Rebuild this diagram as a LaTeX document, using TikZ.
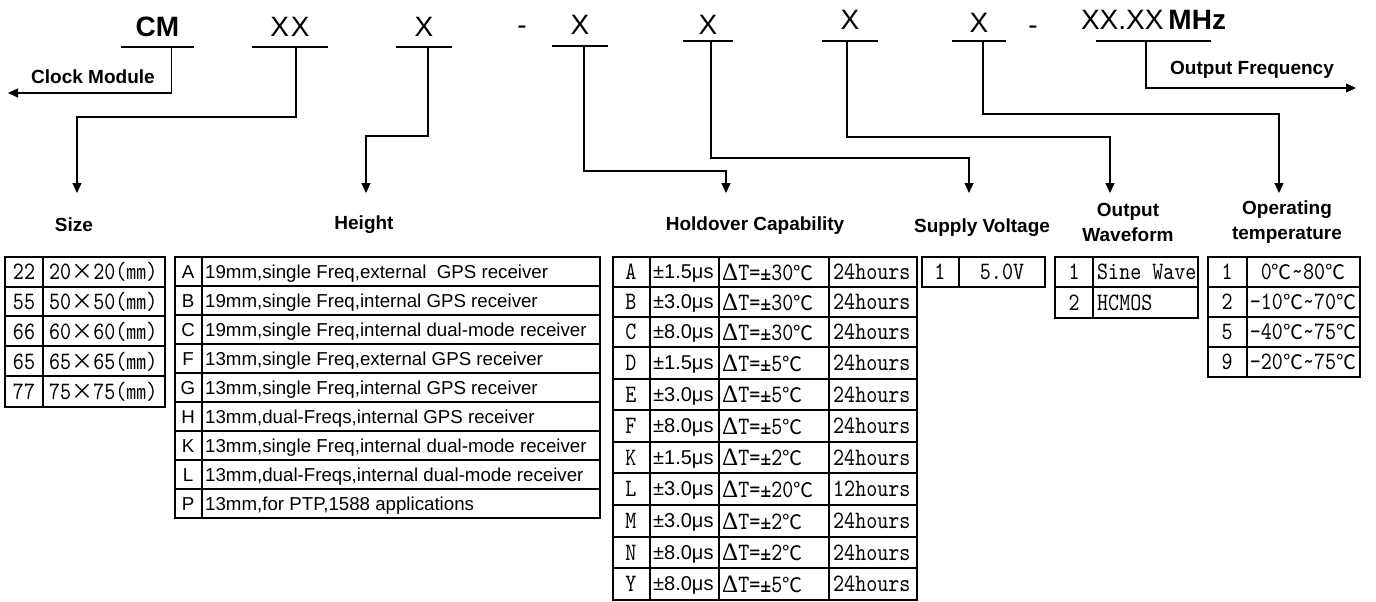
\documentclass[tikz,border=0pt]{standalone}
\usepackage{fontspec}
\setmainfont{Liberation Sans}
\newfontfamily\tabfont[Extension=.otf, FakeStretch=0.84]{lmmono10-regular}
\newfontfamily\grkfont{Liberation Serif}
\newfontfamily\cjkfont{Noto Sans CJK SC}
\usetikzlibrary{arrows.meta}
\newcommand{\degc}{{\cjkfont\fontsize{20}{20}\selectfont ℃}}
\newcommand{\mmunit}{{\cjkfont\fontsize{20}{20}\selectfont ㎜}}
\newcommand{\tms}{{\cjkfont\fontsize{22}{22}\selectfont ×}}
\newcommand{\dlta}{{\grkfont Δ}}

\begin{document}
\begin{tikzpicture}[x=1pt,y=-1pt,
    code/.style={anchor=south, inner xsep=0pt, font=\fontsize{28}{28}\selectfont},
    note/.style={inner sep=0pt, font=\bfseries\fontsize{19}{19}\selectfont},
    title/.style={inner sep=0pt, align=center, font=\bfseries\fontsize{19}{25}\selectfont},
    conn/.style={line width=1.2pt, -{Triangle[width=9pt,length=10pt]}},
    grid/.style={line width=1.3pt},
    cell/.style={inner sep=0pt, font=\tabfont\fontsize{25}{25}\selectfont},
    desc/.style={inner sep=0pt, anchor=west, text height=13.4pt, text depth=0pt, font=\fontsize{18.7}{18.7}\selectfont}]
    \useasboundingbox (0,0) rectangle (1376,602);

    % Code line
    \node[code, inner ysep=10pt] (cm) at (157.5,47) {\bfseries CM};
    \node[code, inner ysep=10pt] (sz) at (290,47) {X\kern2ptX};
    \node[code, inner ysep=10pt] (ht) at (424,47) {X};
    \node[code, inner ysep=0pt, anchor=center] (dsh1) at (522,30) {-};
    \node[code, inner ysep=11pt] (ho) at (580,46) {X};
    \node[code, inner ysep=6pt] (sv) at (708,41) {X};
    \node[code, inner ysep=11pt] (wf) at (850,41) {X};
    \node[code, inner ysep=8pt] (ot) at (979,41) {X};
    \node[code, inner ysep=0pt, anchor=center] (dsh2) at (1033,30) {-};
    \node[code, inner ysep=11pt] (fq) at (1153.5,41) {XX.XX\kern5pt\textbf{MHz}};
    \foreach \n/\w in {cm/73, sz/76, ht/56, ho/56, sv/50, wf/56, ot/54, fq/115}
        \draw[line width=1.2pt] ([xshift=-\w/2]\n.south) -- ([xshift=\w/2]\n.south);

    % Side arrows
    \node[note] (clk) at (93,77) {Clock Module};
    \node[note] (frq) at (1252,70) {Output Frequency};
    \coordinate (clkend) at (8,93);
    \coordinate (fqend) at (1356,88);
    \draw[conn] ([xshift=14pt]cm.south) |- (clkend);
    \draw[conn] ([xshift=-7.5pt]fq.south) |- (fqend);

    % Down arrows
    \foreach \n/\dx/\ym/\xe in {sz/6/117/77, ht/4/136/366, ho/4/171/726, sv/3/158/969, wf/-3/137/1110, ot/4/114/1279}{
        \coordinate (\n-end) at (\xe,193);
        \draw[conn] ([xshift=\dx pt]\n.south) |- (\n-end |- 0,\ym) -- (\n-end);
    }

    % Titles
    \node[title] (tsz) at (74,225) {Size};
    \node[title] (tht) at (364,225) {Height};
    \node[title] (tho) at (755,226) {Holdover Capability};
    \node[title] (tsv) at (982,228) {Supply Voltage};
    \node[title] (twf) at (1128,222) {Output\\Waveform};
    \node[title] (tot) at (1287,222) {Operating\\temperature};

    % Size table
    \draw[grid] (5,257) rectangle (165,407) (43,257) -- (43,407);
    \foreach \y in {287,316,346,376} \draw[grid] (5,\y) -- (165,\y);
    \foreach \k/\mm [count=\i] in {22/20, 55/50, 66/60, 65/65, 77/75}{
        \node[cell] (sz-\k) at (24,257+30*\i-15) {\k};
        \node[cell, anchor=west] (szd-\k) at (49,257+30*\i-15) {\mm\tms\mm(\mmunit)};
    }

    % Height table
    \draw[grid] (175,257) rectangle (600,518) (202,257) -- (202,518);
    \foreach \i in {1,...,8} \draw[grid] (175,257+29*\i) -- (600,257+29*\i);
    \foreach \k/\v [count=\i] in {A/{19mm,single Freq,external~~GPS receiver},
        B/{19mm,single Freq,internal GPS receiver},
        C/{19mm,single Freq,internal dual-mode receiver},
        F/{13mm,single Freq,external GPS receiver},
        G/{13mm,single Freq,internal GPS receiver},
        H/{13mm,dual-Freqs,internal GPS receiver},
        K/{13mm,single Freq,internal dual-mode receiver},
        L/{13mm,dual-Freqs,internal dual-mode receiver},
        P/{13mm,for PTP,1588 applications}}{
        \node[desc, anchor=center] (ht-\k) at (188,242.5+29*\i) {\k};
        \node[desc] (htd-\k) at (205,242.5+29*\i) {\v};
    }

    % Holdover table
    \draw[grid] (613,257) rectangle (917,600);
    \foreach \x in {650,719,829} \draw[grid] (\x,257) -- (\x,600);
    \foreach \y in {287,317,347,379,410,442,473,505,537,568} \draw[grid] (613,\y) -- (917,\y);
    \foreach \k/\acc/\dlt/\hrs/\ym in {A/1.5/30/24/272, B/3.0/30/24/302, C/8.0/30/24/332,
        D/1.5/5/24/363, E/3.0/5/24/394.5, F/8.0/5/24/426, K/1.5/2/24/457.5,
        L/3.0/20/12/489, M/3.0/2/24/521, N/8.0/2/24/552.5, Y/8.0/5/24/584}{
        \node[cell] (ho-\k) at (631,\ym) {\k};
        \node[desc, font=\fontsize{20}{20}\selectfont] (hoa-\k) at (653,\ym) {±\acc μs};
        \node[cell, anchor=west] (hod-\k) at (722,\ym) {\dlta T=±\dlt\degc};
        \node[cell, anchor=west] (hoh-\k) at (833,\ym) {\hrs hours};
    }

    % Supply voltage table
    \draw[grid] (922,257) rectangle (1045,287) (959,257) -- (959,287);
    \node[cell] (sv-1) at (940,272) {1};
    \node[cell] (svd-1) at (1002,272) {5.0V};

    % Waveform table
    \draw[grid] (1055,257) rectangle (1198,318) (1093,257) -- (1093,318) (1055,287) -- (1198,287);
    \node[cell] (wf-1) at (1074,272) {1};
    \node[cell, anchor=west] (wfd-1) at (1097,272) {Sine Wave};
    \node[cell] (wf-2) at (1074,302.5) {2};
    \node[cell, anchor=west] (wfd-2) at (1097,302.5) {HCMOS};

    % Temperature table
    \draw[grid] (1208,257) rectangle (1360,377) (1247,257) -- (1247,377);
    \foreach \y in {287,317,347} \draw[grid] (1208,\y) -- (1360,\y);
    \foreach \k/\lo/\hi [count=\i] in {1/0/80, 2/-10/70, 5/-40/75, 9/-20/75}{
        \node[cell] (ot-\k) at (1227,242+30*\i) {\k};
        \node[cell] (otd-\k) at (1303,242+30*\i) {\lo\degc\textasciitilde\hi\degc};
    }
\end{tikzpicture}
\end{document}
